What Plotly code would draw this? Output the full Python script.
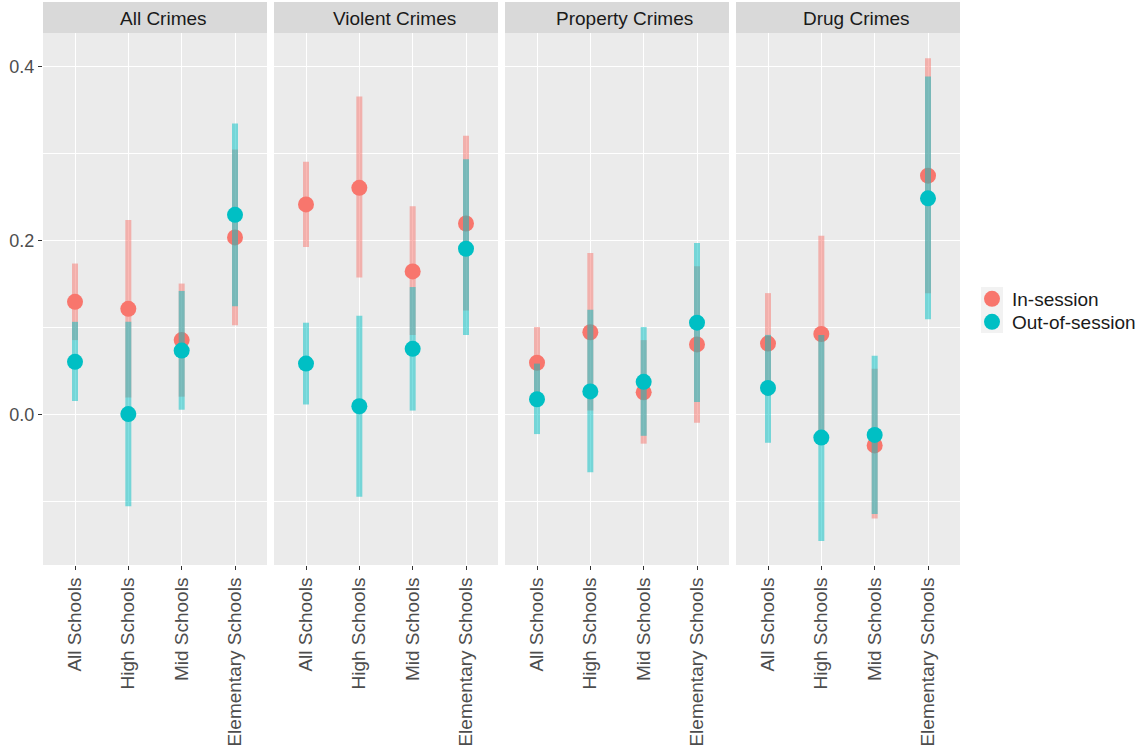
import plotly.graph_objects as go
from plotly.subplots import make_subplots

panels = ["All Crimes", "Violent Crimes", "Property Crimes", "Drug Crimes"]
schools = ["All Schools", "High Schools", "Mid Schools", "Elementary Schools"]
y_ticks = [0.0, 0.2, 0.4]
y_minor = [-0.1, 0.1, 0.3]

# In-session estimates and interval bounds (one row per panel)
in_est = [[0.130, 0.122, 0.086, 0.204],
          [0.242, 0.261, 0.165, 0.220],
          [0.060, 0.095, 0.026, 0.081],
          [0.082, 0.093, -0.035, 0.275]]
in_lo = [[0.086, 0.020, 0.021, 0.103],
         [0.193, 0.158, 0.092, 0.120],
         [0.019, 0.005, -0.033, -0.009],
         [0.022, -0.020, -0.119, 0.140]]
in_hi = [[0.174, 0.224, 0.151, 0.305],
         [0.291, 0.366, 0.240, 0.321],
         [0.101, 0.186, 0.086, 0.171],
         [0.140, 0.206, 0.053, 0.410]]

# Out-of-session estimates and interval bounds
out_est = [[0.061, 0.001, 0.074, 0.230],
           [0.059, 0.010, 0.076, 0.191],
           [0.018, 0.027, 0.038, 0.106],
           [0.031, -0.026, -0.023, 0.249]]
out_lo = [[0.016, -0.105, 0.006, 0.125],
          [0.012, -0.094, 0.005, 0.092],
          [-0.022, -0.066, -0.024, 0.015],
          [-0.032, -0.145, -0.114, 0.110]]
out_hi = [[0.107, 0.107, 0.1425, 0.335],
          [0.106, 0.114, 0.147, 0.294],
          [0.059, 0.121, 0.101, 0.1975],
          [0.092, 0.092, 0.068, 0.389]]

series = [
    ("In-session", "#F8766D", "rgba(248,118,109,0.5)", in_est, in_lo, in_hi, "legend"),
    ("Out-of-session", "#00BFC4", "rgba(0,191,196,0.5)", out_est, out_lo, out_hi, "legend2"),
]

FONT = "Liberation Sans, Arial, sans-serif"
W, H = 1143, 747
ML, MR, MT, MB = 43, 183, 33, 182
plot_w = W - ML - MR
plot_h = H - MT - MB


def px_x(px):
    return (px - ML) / plot_w


def px_y(py):
    return (H - MB - py) / plot_h


fig = make_subplots(rows=1, cols=4, shared_yaxes=True,
                    horizontal_spacing=7 / plot_w)

for p in range(4):
    for name, col, col_a, est, lo, hi, leg in series:
        xs, ys = [], []
        for i, s in enumerate(schools):
            xs += [s, s, None]
            ys += [lo[p][i], hi[p][i], None]
        fig.add_trace(go.Scatter(x=xs, y=ys, mode="lines",
                                 line=dict(color=col_a, width=6),
                                 showlegend=False, hoverinfo="skip"),
                      row=1, col=p + 1)
        fig.add_trace(go.Scatter(x=schools, y=est[p], mode="markers",
                                 marker=dict(color=col, size=16, line=dict(width=0)),
                                 name=name, legendgroup=name, legend=leg,
                                 showlegend=(p == 0)),
                      row=1, col=p + 1)

strip_h = 31 / plot_h
for p in range(4):
    xref = "x domain" if p == 0 else f"x{p+1} domain"
    fig.add_shape(type="rect", xref=xref, yref="paper",
                  x0=0, x1=1, y0=1, y1=1 + strip_h,
                  fillcolor="#D9D9D9", line=dict(width=0), layer="below")
    fig.add_annotation(text=panels[p], xref=xref, yref="paper",
                       x=0.5, y=1 + strip_h / 2, xanchor="center", yanchor="middle",
                       xshift=8, yshift=-1,
                       showarrow=False, font=dict(family=FONT, size=19, color="#1A1A1A"))

for p in range(4):
    fig.update_xaxes(row=1, col=p + 1, type="category",
                     categoryorder="array", categoryarray=schools,
                     range=[-0.6, 3.6], showgrid=True, gridcolor="white", gridwidth=1.3,
                     zeroline=False, ticks="outside", ticklen=4, tickwidth=1.3,
                     tickcolor="#333333", tickangle=-90, automargin=False,
                     tickfont=dict(family=FONT, size=19, color="#4D4D4D"),
                     showline=False, fixedrange=True)
    fig.update_yaxes(row=1, col=p + 1, range=[-0.1725, 0.439],
                     tickvals=y_ticks, ticktext=[f"{v:.1f}" for v in y_ticks],
                     showgrid=True, gridcolor="white", gridwidth=1.3,
                     minor=dict(tickvals=y_minor, showgrid=True, gridcolor="white",
                                gridwidth=0.6, ticks=""),
                     zeroline=False, showline=False, automargin=False,
                     ticks="outside" if p == 0 else "", ticklen=4, tickwidth=1.3,
                     tickcolor="#333333",
                     tickfont=dict(family=FONT, size=18, color="#4D4D4D"),
                     fixedrange=True)

# Legend key backgrounds
fig.add_shape(type="rect", xref="paper", yref="paper",
              x0=px_x(981), x1=px_x(1003), y0=px_y(333), y1=px_y(287),
              fillcolor="#F2F2F2", line=dict(width=0), layer="below")

leg_common = dict(xanchor="left", yanchor="middle", bgcolor="rgba(0,0,0,0)",
                  borderwidth=0, itemwidth=30,
                  font=dict(family=FONT, size=19, color="#1A1A1A"))

fig.update_layout(
    width=W, height=H,
    margin=dict(l=ML, r=MR, t=MT, b=MB, autoexpand=False),
    paper_bgcolor="white", plot_bgcolor="#EBEBEB",
    font=dict(family=FONT, size=19, color="#1A1A1A"),
    showlegend=True,
    legend=dict(x=px_x(972), y=px_y(299), **leg_common),
    legend2=dict(x=px_x(972), y=px_y(322), **leg_common),
)

fig.write_html("out.html",
               config={"displayModeBar": False, "staticPlot": False},
               post_script="document.body.style.margin='0';document.body.style.overflow='hidden';")
